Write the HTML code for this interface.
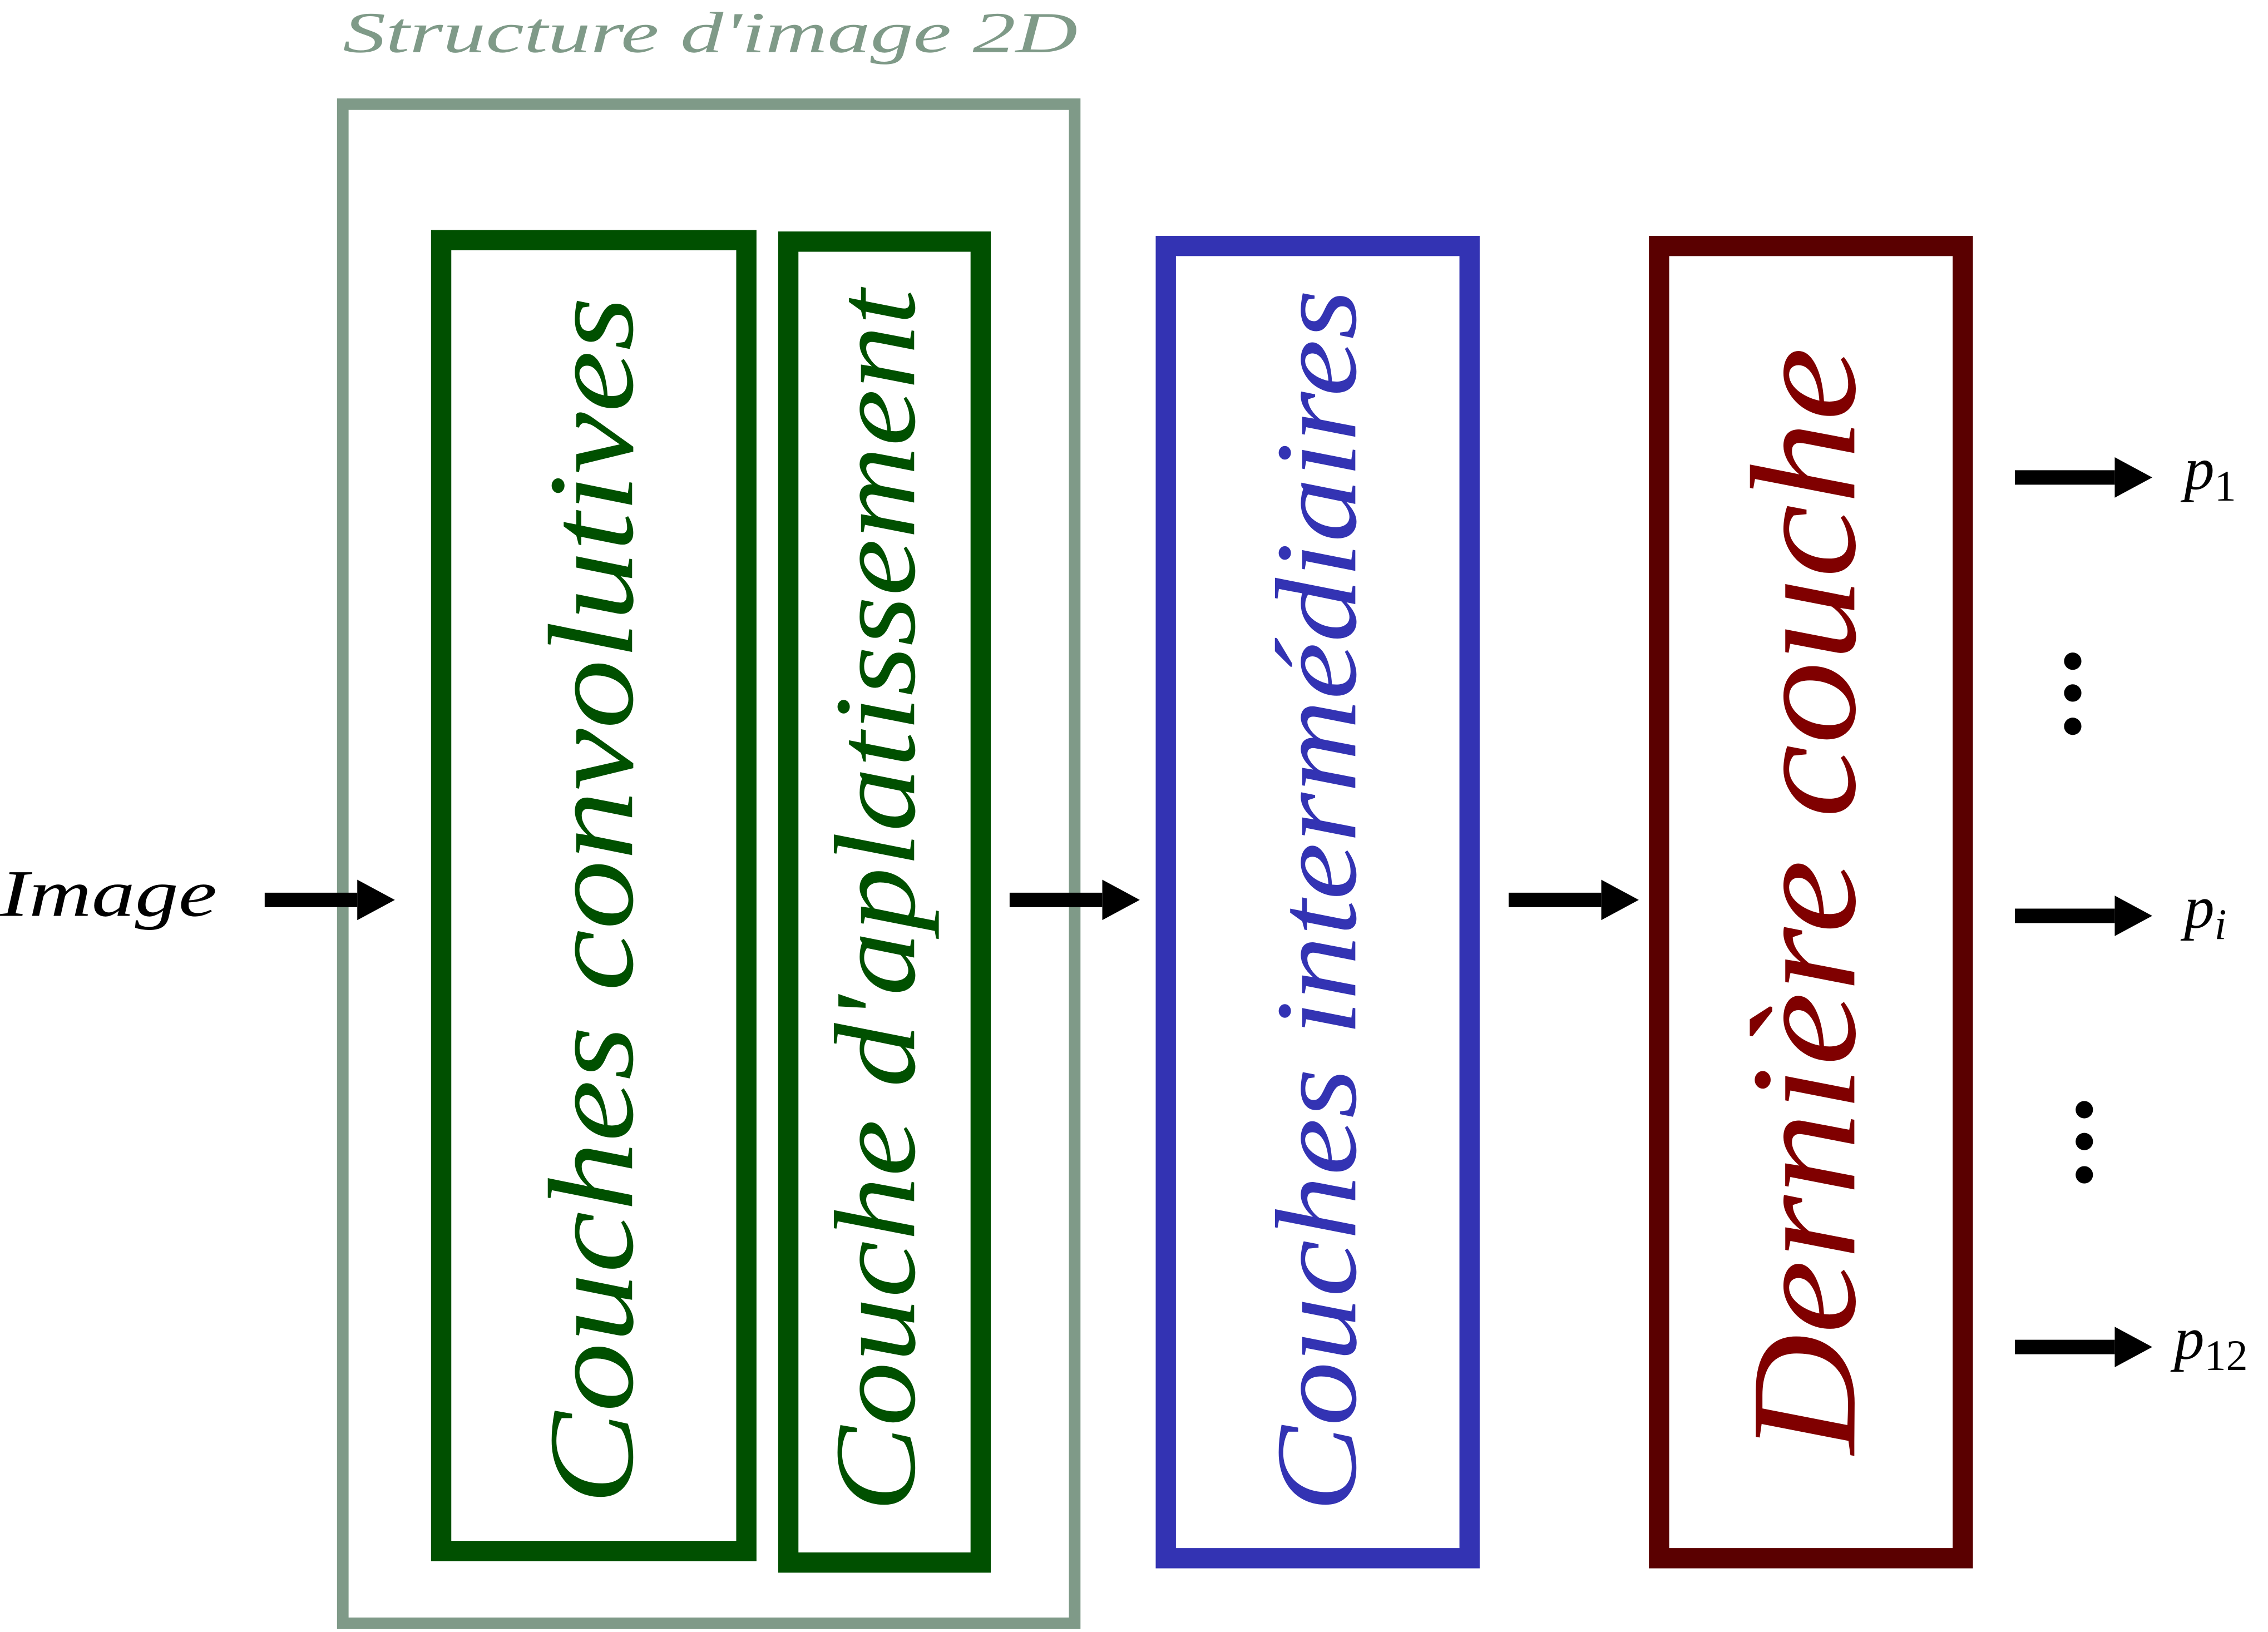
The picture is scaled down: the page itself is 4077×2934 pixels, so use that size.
<!DOCTYPE html>
<html><head><meta charset="utf-8"><style>
html,body{margin:0;padding:0;background:#fff;}
svg{display:block;}
</style></head><body>
<svg width="4077" height="2934" viewBox="0 0 1568 1128" preserveAspectRatio="none" xmlns="http://www.w3.org/2000/svg" font-family="'Liberation Serif', 'DejaVu Serif', serif" font-style="italic">
<defs>
<marker id="ah" markerWidth="4" markerHeight="4" refX="0" refY="2" orient="auto" markerUnits="strokeWidth">
<path d="M0,0.6 L2.6,2 L0,3.4 Z" fill="#000"/></marker>
</defs>
<g>
<rect x="237" y="72" width="506" height="1050" fill="none" stroke="#7f9a88" stroke-width="8"/>
<text x="237" y="36" font-size="40" fill="#7f9a88" textLength="508" lengthAdjust="spacingAndGlyphs" font-family="'Liberation Serif', 'DejaVu Serif', serif" font-style="italic">Structure d'image  2D</text>
</g>
<text x="0" y="633" font-size="46" fill="#000" textLength="150" lengthAdjust="spacingAndGlyphs" font-family="'Liberation Serif', 'DejaVu Serif', serif" font-style="italic">Image</text>
<line x1="183" y1="622" x2="247" y2="622" stroke="#000" stroke-width="10" marker-end="url(#ah)"/>
<rect x="305" y="166" width="211" height="906" fill="none" stroke="#005000" stroke-width="14"/>
<text transform="translate(437,1040) rotate(-90)" font-size="84" fill="#005000" textLength="835" lengthAdjust="spacingAndGlyphs" font-family="'Liberation Serif', 'DejaVu Serif', serif" font-style="italic">Couches convolutives</text>
<rect x="545" y="167" width="133" height="913" fill="none" stroke="#005000" stroke-width="14"/>
<text transform="translate(632,1045) rotate(-90)" font-size="80" fill="#005000" textLength="845" lengthAdjust="spacingAndGlyphs" font-family="'Liberation Serif', 'DejaVu Serif', serif" font-style="italic">Couche d'aplatissement</text>
<line x1="698" y1="622" x2="762" y2="622" stroke="#000" stroke-width="10" marker-end="url(#ah)"/>
<rect x="806" y="170" width="210" height="907" fill="none" stroke="#3333b3" stroke-width="14"/>
<text transform="translate(937,1045) rotate(-90)" font-size="80" fill="#3333b3" textLength="845" lengthAdjust="spacingAndGlyphs" font-family="'Liberation Serif', 'DejaVu Serif', serif" font-style="italic">Couches intermédiaires</text>
<line x1="1043" y1="622" x2="1107" y2="622" stroke="#000" stroke-width="10" marker-end="url(#ah)"/>
<rect x="1147" y="170" width="210" height="907" fill="none" stroke="#5a0000" stroke-width="14"/>
<text transform="translate(1282,1005) rotate(-90)" font-size="104" fill="#800000" textLength="765" lengthAdjust="spacingAndGlyphs" font-family="'Liberation Serif', 'DejaVu Serif', serif" font-style="italic">Dernière couche</text>
<line x1="1393" y1="330" x2="1462" y2="330" stroke="#000" stroke-width="10" marker-end="url(#ah)"/>
<line x1="1393" y1="633" x2="1462" y2="633" stroke="#000" stroke-width="10" marker-end="url(#ah)"/>
<line x1="1393" y1="931" x2="1462" y2="931" stroke="#000" stroke-width="10" marker-end="url(#ah)"/>
<text x="1510" y="338" font-size="42" fill="#000">p<tspan font-style="normal" font-size="30" dy="8">1</tspan></text>
<text x="1510" y="641" font-size="42" fill="#000">p<tspan font-size="30" dy="8">i</tspan></text>
<text x="1503" y="939" font-size="42" fill="#000">p<tspan font-style="normal" font-size="30" dy="8">12</tspan></text>
<g fill="#000">
<circle cx="1433" cy="457" r="6"/><circle cx="1433" cy="479" r="6"/><circle cx="1433" cy="502" r="6"/>
</g>
<g fill="#000">
<circle cx="1441" cy="767" r="6"/><circle cx="1441" cy="789" r="6"/><circle cx="1441" cy="812" r="6"/>
</g>
</svg>
</body></html>
